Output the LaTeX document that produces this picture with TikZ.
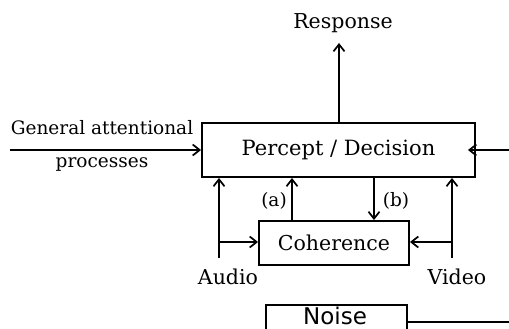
\documentclass[tikz,border=0pt]{standalone}
\usepackage{fontspec}
\setmainfont{DejaVu Serif}
\newfontfamily\noisefont{DejaVu Sans}
\usetikzlibrary{arrows.meta}
\tikzset{
  x=1pt,y=-1pt,
  box/.style={draw,line width=1.9pt,inner sep=0pt},
  lbl/.style={inner sep=0pt,font=\fontsize{20.5}{24}\selectfont},
  slbl/.style={inner sep=0pt,font=\fontsize{18.5}{22}\selectfont},
  conn/.style={line width=1.9pt,-{Straight Barb[length=7pt,width=11pt,line width=1.7pt]}},
  plain/.style={line width=1.9pt}
}
\begin{document}
\begin{tikzpicture}
\useasboundingbox (0,0) rectangle (509,329);
\clip (0,0) rectangle (509,329);
\node[box,minimum width=273pt,minimum height=54pt,font=\fontsize{21}{24}\selectfont] (pd) at (338.5,150) {Percept / Decision};
\node[box,minimum width=150pt,minimum height=44pt,font=\fontsize{20.5}{24}\selectfont] (coh) at (334,243) {Coherence};
\draw[line width=1.9pt] (407,350) |- (266,305) -- (266,350);
\node[inner sep=0pt,font=\noisefont\fontsize{23}{26}\selectfont] (noise) at (335,316) {Noise};
\node[lbl] (resp) at (343,23) {Response};
\node[slbl] (gen) at (102,128) {General attentional};
\node[slbl] (proc) at (102,164) {processes};
\node[lbl] (audio) at (228,277) {Audio};
\node[lbl] (video) at (457,277) {Video};
\node[slbl] (la) at (274,201) {(a)};
\node[slbl] (lb) at (396,201) {(b)};
\coordinate (gs) at (10,150);
\coordinate (rs) at (509,150);
\coordinate (rt) at (339,43);
\coordinate (as) at (219,258);
\coordinate (vs) at (452,258);
\coordinate (ns) at (407,322);
\coordinate (ne) at (509,322);
\draw[conn] (gs) -- (pd.west|-gs);
\draw[conn] (rs) -- ([xshift=-8pt]pd.east|-rs);
\draw[conn] (pd.north-|rt) -- (rt);
\draw[conn] (as) -- (pd.south-|as);
\draw[conn] (vs) -- (pd.south-|vs);
\draw[conn] (219,242) -- (coh.west|-0,242);
\draw[conn] (452,242) -- (coh.east|-0,242);
\draw[conn] (coh.north-|292,0) -- (pd.south-|292,0);
\draw[conn] (pd.south-|374,0) -- (coh.north-|374,0);
\draw[plain] (ns) -- (ne);
\end{tikzpicture}
\end{document}
